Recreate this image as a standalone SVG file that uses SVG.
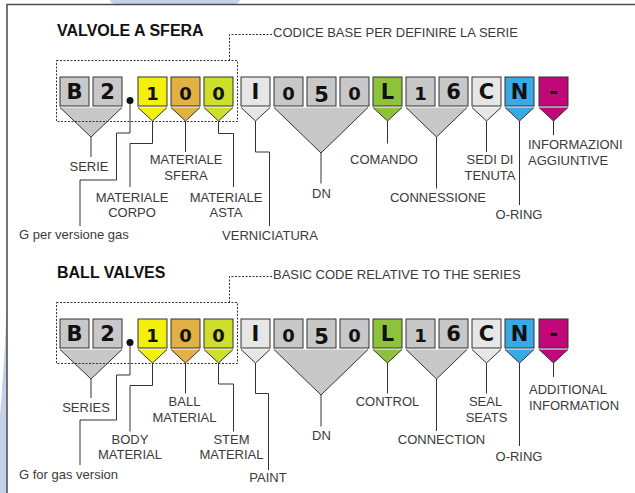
<svg xmlns="http://www.w3.org/2000/svg" width="635" height="493" viewBox="0 0 635 493">
<style>
.bx{stroke:#333;stroke-width:1}
.g{fill:#c8c8c8}.lg{fill:#e6e6e6}.y{fill:#f4f00e}.o{fill:#e3b143}.lm{fill:#cedf2b}.gr{fill:#8fc23b}.bl{fill:#39a9e5}.mg{fill:#c0087b}
.tri{stroke:#333;stroke-width:1}
.ch{font-family:"DejaVu Sans","Liberation Sans",sans-serif;font-weight:bold;font-size:21px;fill:#111;text-anchor:middle}
.sm{font-size:18px}
.lb{font-family:"Liberation Sans",Arial,sans-serif;font-size:13px;fill:#3a3a3a}
.c{text-anchor:middle}
.ttl{font-family:"Liberation Sans",Arial,sans-serif;font-weight:bold;font-size:16px;fill:#111}
.ln{fill:none;stroke:#333;stroke-width:1}
.dsh{fill:none;stroke:#333;stroke-width:1;stroke-dasharray:2,1.5}
</style>
<defs>
<g id="code">
<g id="n-B"><rect class="bx g" x="60" y="77" width="29" height="29"/><text class="ch" x="74.5" y="99">B</text></g>
<g id="n-2"><rect class="bx g" x="93" y="77" width="29" height="29"/><text class="ch" x="107.5" y="99">2</text></g>
<circle cx="130" cy="100.5" r="3.5" fill="#111"/>
<g id="n-1a"><rect class="bx y" x="138" y="77" width="29" height="29"/><text class="ch sm" x="152.5" y="99.5">1</text></g>
<g id="n-0a"><rect class="bx o" x="171" y="77" width="29" height="29"/><text class="ch sm" x="185.5" y="99.5">0</text></g>
<g id="n-0b"><rect class="bx lm" x="204" y="77" width="29" height="29"/><text class="ch sm" x="218.5" y="99.5">0</text></g>
<g id="n-I"><rect class="bx lg" x="241" y="77" width="29" height="29"/><text class="ch" x="255.5" y="99">I</text></g>
<g id="n-0c"><rect class="bx g" x="274" y="77" width="29" height="29"/><text class="ch sm" x="288.5" y="99.5">0</text></g>
<g id="n-5"><rect class="bx g" x="307" y="77" width="29" height="29"/><text class="ch" x="321.5" y="102">5</text></g>
<g id="n-0d"><rect class="bx g" x="340" y="77" width="29" height="29"/><text class="ch sm" x="354.5" y="99.5">0</text></g>
<g id="n-L"><rect class="bx gr" x="373" y="77" width="29" height="29"/><text class="ch" x="387.5" y="99">L</text></g>
<g id="n-1b"><rect class="bx g" x="406" y="77" width="29" height="29"/><text class="ch sm" x="420.5" y="99.5">1</text></g>
<g id="n-6"><rect class="bx g" x="439" y="77" width="29" height="29"/><text class="ch" x="453.5" y="99">6</text></g>
<g id="n-C"><rect class="bx lg" x="472" y="77" width="29" height="29"/><text class="ch" x="486.5" y="99">C</text></g>
<g id="n-N"><rect class="bx bl" x="505" y="77" width="29" height="29"/><text class="ch" x="519.5" y="99">N</text></g>
<g id="n-dash"><rect class="bx mg" x="539" y="77" width="29" height="29"/><text class="ch" x="553.5" y="99">-</text></g>
<g id="triangles">
<path class="tri g" d="M60,107.5 L91,137 L122,107.5"/>
<path class="tri y" d="M138,107.5 L152.5,121 L167,107.5"/>
<path class="tri o" d="M171,107.5 L185.5,121 L200,107.5"/>
<path class="tri lm" d="M204,107.5 L218.5,121 L233,107.5"/>
<path class="tri lg" d="M241,107.5 L255.5,121 L270,107.5"/>
<path class="tri g" d="M274,107.5 L321,153 L368,107.5"/>
<path class="tri gr" d="M373,107.5 L387.5,121 L402,107.5"/>
<path class="tri g" d="M406,107.5 L436.5,137 L467,107.5"/>
<path class="tri lg" d="M472,107.5 L486.5,121 L501,107.5"/>
<path class="tri bl" d="M505,107.5 L519.5,121 L534,107.5"/>
<path class="tri mg" d="M539,107.5 L553.5,121 L568,107.5"/>
</g>
<rect class="dsh" x="56.5" y="60.5" width="181" height="61"/>
<path class="dsh" d="M229.5,60.5 V34.5 H272"/>
</g>
</defs>

<g id="background">
<path d="M110,0 H240 L239,2 Q237.5,4 234,4 H116 Q112.5,4 111,2 Z" fill="#c5d1e8"/>
<path d="M7,298 C5.5,340 3,380 0,415 V493 H7 Z" fill="#c5d1e8"/>
<path d="M7,493 V4.5 H635" fill="none" stroke="#4a4a4a" stroke-width="1.5"/>
</g>

<g id="section-it">
<text class="ttl" x="57" y="36">VALVOLE A SFERA</text>
<text class="lb" x="273" y="36.5">CODICE BASE PER DEFINIRE LA SERIE</text>
<use href="#code"/>
</g>

<g id="section-en">
<text class="ttl" x="57" y="278">BALL VALVES</text>
<text class="lb" x="273" y="278.5">BASIC CODE RELATIVE TO THE SERIES</text>
<use href="#code" transform="translate(0,242)"/>
</g>

<g id="connectors">
<path class="ln" d="M91,137 V157"/>
<path class="ln" d="M130,104 V133 H116.5 V180 H80 V226"/>
<path class="ln" d="M152.5,121 V143.5 H130 V187"/>
<path class="ln" d="M185.5,121 V152"/>
<path class="ln" d="M218.5,121 V133.5 H233.5 V187"/>
<path class="ln" d="M255.5,121 V152 H269.5 V226"/>
<path class="ln" d="M321,153 V183.5"/>
<path class="ln" d="M387.5,121 V143.5"/>
<path class="ln" d="M436.5,137 V188.5"/>
<path class="ln" d="M486.5,121 V152"/>
<path class="ln" d="M519.5,121 V205"/>
<path class="ln" d="M553.5,121 V135"/>

<path class="ln" d="M91,379 V398"/>
<path class="ln" d="M130,346 V375 H116.5 V420 H80 V465"/>
<path class="ln" d="M152.5,363 V385.5 H130 V431.5"/>
<path class="ln" d="M185.5,363 V393.5"/>
<path class="ln" d="M218.5,363 V384 H233.5 V431.5"/>
<path class="ln" d="M255.5,363 V393.5 H268.5 V470"/>
<path class="ln" d="M321,395 V426.5"/>
<path class="ln" d="M387.5,363 V393.5"/>
<path class="ln" d="M436.5,379 V431"/>
<path class="ln" d="M486.5,363 V393.5"/>
<path class="ln" d="M519.5,363 V446"/>
<path class="ln" d="M553.5,363 V377"/>
</g>

<g id="labels-it">
<text class="lb c" x="89" y="171">SERIE</text>
<text class="lb" x="19" y="239">G per versione gas</text>
<text class="lb c" x="132" y="202">MATERIALE</text>
<text class="lb c" x="132" y="217">CORPO</text>
<text class="lb c" x="186" y="163.5">MATERIALE</text>
<text class="lb c" x="186" y="179.5">SFERA</text>
<text class="lb c" x="226" y="202">MATERIALE</text>
<text class="lb c" x="226" y="217">ASTA</text>
<text class="lb c" x="270" y="239.5">VERNICIATURA</text>
<text class="lb c" x="321.5" y="197.5">DN</text>
<text class="lb c" x="384" y="163.5">COMANDO</text>
<text class="lb c" x="438" y="202">CONNESSIONE</text>
<text class="lb c" x="490" y="163.5">SEDI DI</text>
<text class="lb c" x="490" y="180">TENUTA</text>
<text class="lb c" x="519" y="219">O-RING</text>
<text class="lb" x="528" y="148.5">INFORMAZIONI</text>
<text class="lb" x="528" y="165">AGGIUNTIVE</text>
</g>

<g id="labels-en">
<text class="lb c" x="86" y="412">SERIES</text>
<text class="lb" x="19" y="479">G for gas version</text>
<text class="lb c" x="130" y="443.5">BODY</text>
<text class="lb c" x="130" y="458.5">MATERIAL</text>
<text class="lb c" x="184.5" y="406">BALL</text>
<text class="lb c" x="184.5" y="421.5">MATERIAL</text>
<text class="lb c" x="231.5" y="443.5">STEM</text>
<text class="lb c" x="231.5" y="458.5">MATERIAL</text>
<text class="lb c" x="268" y="481.5">PAINT</text>
<text class="lb c" x="321.5" y="440">DN</text>
<text class="lb c" x="387.5" y="406">CONTROL</text>
<text class="lb c" x="441.5" y="444">CONNECTION</text>
<text class="lb c" x="485.5" y="406">SEAL</text>
<text class="lb c" x="486.5" y="421.5">SEATS</text>
<text class="lb c" x="519" y="460.5">O-RING</text>
<text class="lb" x="529" y="394">ADDITIONAL</text>
<text class="lb" x="529" y="409.5">INFORMATION</text>
</g>
</svg>
